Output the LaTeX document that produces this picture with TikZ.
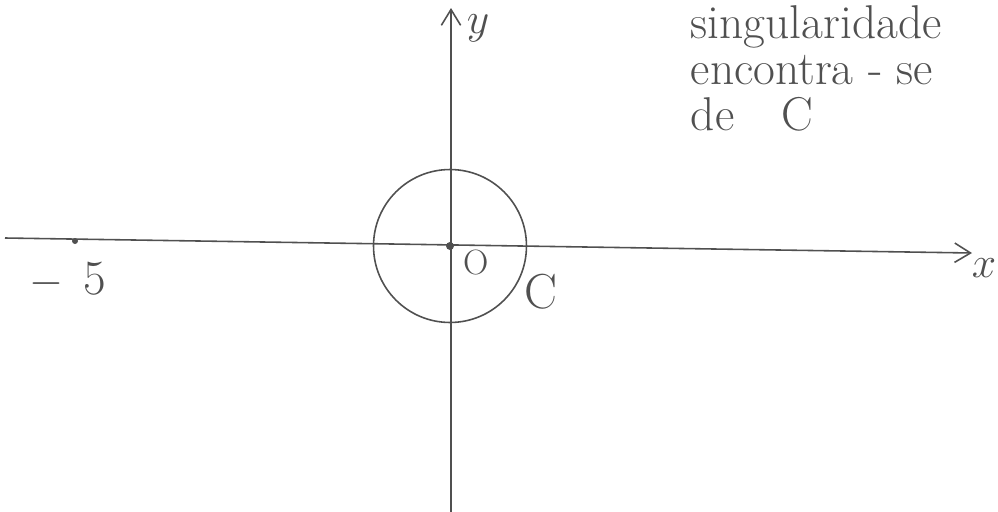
\documentclass[tikz,border=0pt]{standalone}
\usepackage{tikz}
\usetikzlibrary{arrows.meta}
\definecolor{pencil}{RGB}{80,80,80}

\begin{document}
\begin{tikzpicture}[x=0.02cm,y=-0.02cm,line width=0.9pt,draw=pencil,text=pencil,
  hand/.style={font=\fontsize{27}{30}\selectfont,anchor=west,inner sep=0pt},
  lbl/.style={font=\fontsize{28}{32}\selectfont,inner sep=0pt}]
\useasboundingbox (0,0) rectangle (998,511);
\coordinate (xl) at (5,238);
\coordinate (xr) at (972,253);
\coordinate (yb) at (451,515);
\coordinate (yt) at (451,8);
\coordinate (O) at (450,246);
\coordinate (m5) at (75,241);
\draw[-{Straight Barb[length=9pt,width=11pt]}] (xl)--(xr);
\draw[-{Straight Barb[length=9pt,width=11pt]}] (yb)--(yt);
\node[draw,circle,inner sep=0pt,minimum size=3.06cm] (C) at (O) {};
\fill[pencil] (O) circle (4);
\fill[pencil] (m5) circle (3);
\node[lbl] (lm5) at (68,280) {$-\;\,$5};
\node[lbl,font=\fontsize{20}{24}\selectfont] (lO) at (476,262) {O};
\node[lbl] (lC) at (541,292) {C};
\node[lbl,font=\fontsize{34}{38}\selectfont] (ly) at (478,28) {$y$};
\node[lbl,font=\fontsize{26}{30}\selectfont] (lx) at (984,268) {$x$};
\node[hand] (t1) at (690,27) {singularidade};
\node[hand] (t2) at (690,70) {encontra - se};
\node[hand] (t3) at (690,114) {de\quad C};
\end{tikzpicture}
\end{document}
